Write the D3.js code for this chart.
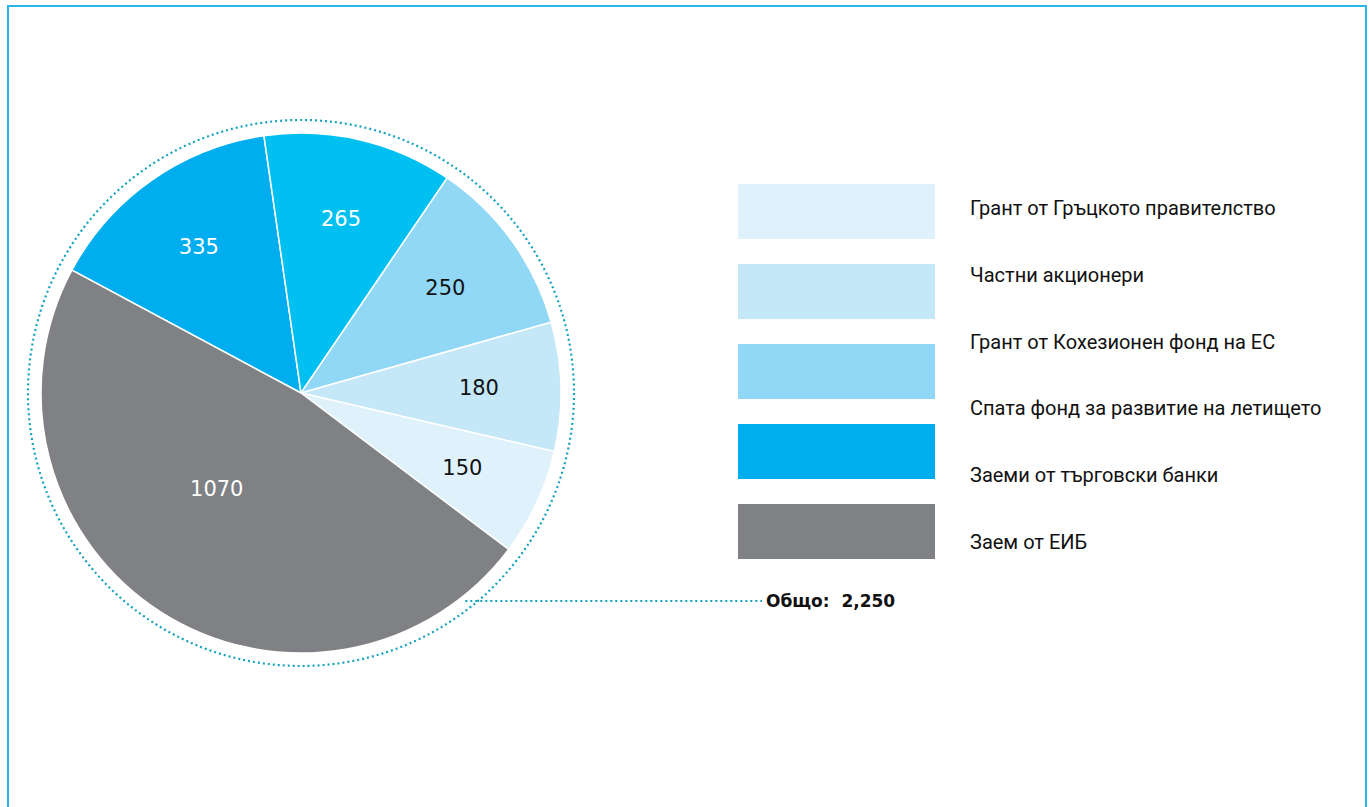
<!DOCTYPE html>
<html>
<head>
<meta charset="utf-8">
<script src="https://cdn.jsdelivr.net/npm/d3@7.9.0/dist/d3.min.js"></script>
<style>
  html, body { margin: 0; padding: 0; background: #fff; }
  svg { display: block; }
</style>
</head>
<body>
<svg id="chart" width="1370" height="807"></svg>
<script>
// ---- data ----
const sliceValues = [335, 265, 250, 180, 150, 1070];
const sliceColors = ["#00aeef", "#00c0f2", "#90d8f6", "#c5e8f8", "#dff2fc", "#808184"];
const sliceTextColors = ["#fff", "#fff", "#111", "#111", "#111", "#fff"];

const legendLabels = [
  "Грант от Гръцкото правителство",
  "Частни акционери",
  "Грант от Кохезионен фонд на ЕС",
  "Спата фонд за развитие на летището",
  "Заеми от търговски банки",
  "Заем от ЕИБ"
];
const legendColors = ["#dff2fc", "#c5e8f8", "#90d8f6", "#00aeef", "#808184"];

const totalLabel = "Общо:  2,250";

// ---- setup ----
const svg = d3.select("#chart");

// frame
svg.append("rect")
  .attr("x", 8).attr("y", 6)
  .attr("width", 1358).attr("height", 820)
  .attr("fill", "none")
  .attr("stroke", "#29b6e8")
  .attr("stroke-width", 2);

const cx = 301, cy = 393, R = 260;
const g = svg.append("g").attr("transform", `translate(${cx},${cy})`);

const startA = -61.8 * Math.PI / 180;
const pie = d3.pie().sort(null).value(d => d)
  .startAngle(startA).endAngle(startA + 2 * Math.PI);
const arcs = pie(sliceValues);

const arc = d3.arc().innerRadius(0).outerRadius(R);

g.selectAll("path.slice")
  .data(arcs)
  .join("path")
  .attr("class", "slice")
  .attr("d", arc)
  .attr("fill", (d, i) => sliceColors[i])
  .attr("stroke", "#fff")
  .attr("stroke-width", 1.5);

// dotted outer ring
const dotted = sel => sel
  .attr("stroke", "#14a2bd")
  .attr("stroke-width", 2.2)
  .attr("stroke-dasharray", "2,3");

g.append("circle")
  .attr("r", R + 13)
  .attr("fill", "none")
  .call(dotted);

// slice labels
const labelArc = d3.arc().innerRadius(178).outerRadius(178);
g.selectAll("text.val")
  .data(arcs)
  .join("text")
  .attr("class", "val")
  .attr("transform", d => {
    const big = d.value === d3.max(sliceValues);
    if (big) {
      const a = d.startAngle + 0.55 * (d.endAngle - d.startAngle);
      return `translate(${128 * Math.sin(a)},${-128 * Math.cos(a)})`;
    }
    return `translate(${labelArc.centroid(d)})`;
  })
  .attr("text-anchor", "middle")
  .attr("dy", "0.3em")
  .attr("font-family", "DejaVu Sans, Verdana, sans-serif")
  .attr("font-size", 21)
  .attr("fill", (d, i) => sliceTextColors[i])
  .text(d => d.value);

// ---- legend ----
const boxY = d3.scaleBand()
  .domain(d3.range(legendColors.length))
  .range([184, 559])
  .paddingInner(0.3125);

svg.selectAll("rect.key")
  .data(legendColors)
  .join("rect")
  .attr("class", "key")
  .attr("x", 738)
  .attr("y", (d, i) => boxY(i))
  .attr("width", 197)
  .attr("height", boxY.bandwidth())
  .attr("fill", d => d);

const labY = d3.scalePoint()
  .domain(d3.range(legendLabels.length))
  .range([208, 542]);

svg.selectAll("text.key")
  .data(legendLabels)
  .join("text")
  .attr("class", "key")
  .attr("x", 970)
  .attr("y", (d, i) => labY(i))
  .attr("dy", "0.35em")
  .attr("font-family", "Liberation Sans Narrow, Roboto, sans-serif")
  .attr("font-size", 20)
  .attr("fill", "#111")
  .text(d => d);

// ---- total callout ----
const angTot = 143 * Math.PI / 180;
const lineY = 601;
svg.append("line")
  .attr("x1", cx + (R + 13) * Math.sin(angTot))
  .attr("y1", lineY)
  .attr("x2", 762)
  .attr("y2", lineY)
  .call(dotted);

svg.append("text")
  .attr("x", 766)
  .attr("y", lineY)
  .attr("dy", "0.35em")
  .attr("font-family", "DejaVu Sans, Verdana, sans-serif")
  .attr("font-weight", "bold")
  .attr("font-size", 17)
  .attr("fill", "#111")
  .style("white-space", "pre")
  .text(totalLabel);
</script>
</body>
</html>
